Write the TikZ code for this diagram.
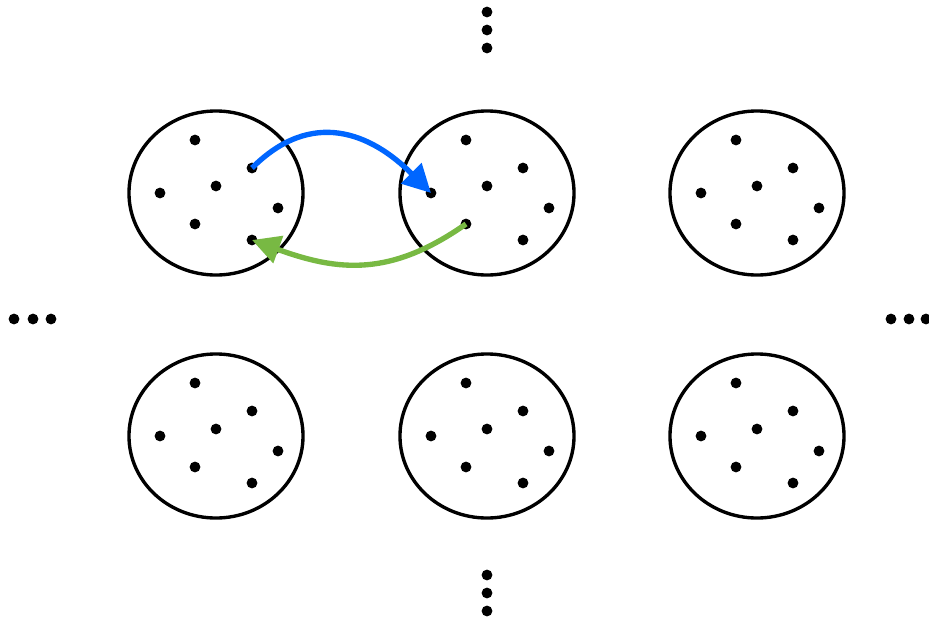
\documentclass[tikz,border=0pt]{standalone}
\usetikzlibrary{shapes.geometric,arrows.meta}
\definecolor{hopblue}{HTML}{0066FF}
\definecolor{hopgreen}{HTML}{78B943}
\begin{document}
\begin{tikzpicture}[x=0.025cm, y=-0.025cm,
  cell/.style={draw, ellipse, line width=2.4pt, minimum width=4.35cm, minimum height=4.1cm, inner sep=0pt},
  pt/.style={circle, fill, inner sep=0pt, minimum size=0.27cm},
  hop/.style={line width=3.8pt, -{Triangle[length=7mm,width=7mm]}}]
  \useasboundingbox (0,0) rectangle (929,619);
  % grid of cells with their points
  \foreach \r/\cy in {1/193,2/436}
    \foreach \c/\cx in {1/216,2/487,3/757} {
      \node[cell] (c\r\c) at (\cx,\cy) {};
      \begin{scope}[shift={(\cx,\cy)}]
        \foreach \i/\dx/\dy in {1/-21/-53,2/36/-25,3/-56/0,4/0/-7,5/62/15,6/-21/31,7/36/47}
          \node[pt] (c\r\c-\i) at (\dx,\dy) {};
      \end{scope}
    }
  % continuation dots
  \foreach \i/\x in {1/14,2/33,3/51} \node[pt] (dl\i) at (\x,319) {};
  \foreach \i/\x in {1/891,2/909,3/926} \node[pt] (dr\i) at (\x,319) {};
  \foreach \i/\y in {1/12,2/30,3/48} \node[pt] (dt\i) at (487,\y) {};
  \foreach \i/\y in {1/575,2/593,3/611} \node[pt] (db\i) at (487,\y) {};
  % hops between cells
  \draw[hop, hopblue] (c11-2.center) to[out=45, in=135, looseness=1.2] (c12-3.center);
  \draw[hop, hopgreen] (c12-6.center) to[out=215, in=-20, looseness=1.1] (c11-7.center);
\end{tikzpicture}
\end{document}
